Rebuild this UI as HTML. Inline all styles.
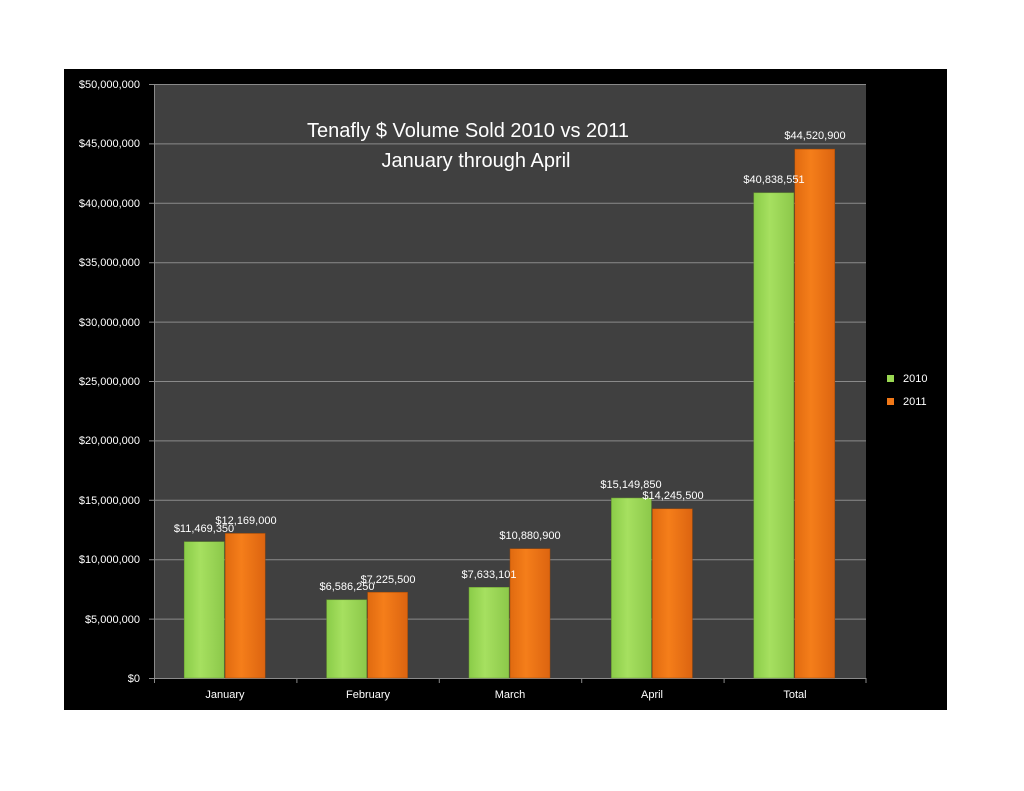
<!DOCTYPE html>
<html><head><meta charset="utf-8"><style>
body{margin:0;background:#fff;}
svg{display:block;font-family:"Liberation Sans",sans-serif;}
</style></head><body>
<svg width="1024" height="791" viewBox="0 0 1024 791">
<defs>
<linearGradient id="g" x1="0" x2="1" y1="0" y2="0">
<stop offset="0" stop-color="#8acc48"/><stop offset="0.4" stop-color="#a6e060"/><stop offset="1" stop-color="#8cc84a"/></linearGradient>
<linearGradient id="o" x1="0" x2="1" y1="0" y2="0">
<stop offset="0" stop-color="#e06a10"/><stop offset="0.4" stop-color="#f57e1a"/><stop offset="1" stop-color="#dc6410"/></linearGradient>
</defs>
<rect x="64" y="69" width="883" height="641" fill="#000"/>
<rect x="154" y="84" width="712" height="594" fill="#404040"/>
<g stroke="#8a8a8a" stroke-width="1">
<line x1="149" x2="866" y1="84.5" y2="84.5"/>
<line x1="149" x2="866" y1="143.9" y2="143.9"/>
<line x1="149" x2="866" y1="203.3" y2="203.3"/>
<line x1="149" x2="866" y1="262.7" y2="262.7"/>
<line x1="149" x2="866" y1="322.1" y2="322.1"/>
<line x1="149" x2="866" y1="381.5" y2="381.5"/>
<line x1="149" x2="866" y1="440.9" y2="440.9"/>
<line x1="149" x2="866" y1="500.3" y2="500.3"/>
<line x1="149" x2="866" y1="559.7" y2="559.7"/>
<line x1="149" x2="866" y1="619.1" y2="619.1"/>
<line x1="149" x2="866" y1="678.5" y2="678.5"/>
<line x1="154.5" x2="154.5" y1="84" y2="678"/>
<line x1="154.5" x2="154.5" y1="678" y2="683"/>
<line x1="296.9" x2="296.9" y1="678" y2="683"/>
<line x1="439.3" x2="439.3" y1="678" y2="683"/>
<line x1="581.7" x2="581.7" y1="678" y2="683"/>
<line x1="724.1" x2="724.1" y1="678" y2="683"/>
<line x1="866" x2="866" y1="678" y2="683"/>
</g>
<g fill="#fff" font-size="11" text-anchor="end">
<text x="140" y="88">$50,000,000</text>
<text x="140" y="147">$45,000,000</text>
<text x="140" y="207">$40,000,000</text>
<text x="140" y="266">$35,000,000</text>
<text x="140" y="326">$30,000,000</text>
<text x="140" y="385">$25,000,000</text>
<text x="140" y="444">$20,000,000</text>
<text x="140" y="504">$15,000,000</text>
<text x="140" y="563">$10,000,000</text>
<text x="140" y="623">$5,000,000</text>
<text x="140" y="682">$0</text>
</g>
<g fill="url(#g)" stroke="#6a9a30" stroke-width="0.5">
<rect x="184.2" y="541.7" width="40" height="136.3"/>
<rect x="326.6" y="599.8" width="40" height="78.2"/>
<rect x="469" y="587.3" width="40" height="90.7"/>
<rect x="611.4" y="498" width="40" height="180"/>
<rect x="753.8" y="192.8" width="40" height="485.2"/>
</g>
<g fill="url(#o)" stroke="#a04a08" stroke-width="0.5">
<rect x="225.2" y="533.4" width="40" height="144.6"/>
<rect x="367.6" y="592.2" width="40" height="85.8"/>
<rect x="510" y="548.7" width="40" height="129.3"/>
<rect x="652.4" y="508.8" width="40" height="169.2"/>
<rect x="794.8" y="149.1" width="40" height="528.9"/>
</g>
<g fill="#fff" font-size="11" text-anchor="middle">
<text x="204" y="532">$11,469,350</text>
<text x="246" y="524">$12,169,000</text>
<text x="347" y="590">$6,586,250</text>
<text x="388" y="583">$7,225,500</text>
<text x="489" y="578">$7,633,101</text>
<text x="530" y="539">$10,880,900</text>
<text x="631" y="488">$15,149,850</text>
<text x="673" y="499">$14,245,500</text>
<text x="774" y="183">$40,838,551</text>
<text x="815" y="139">$44,520,900</text>
<text x="225" y="698">January</text>
<text x="368" y="698">February</text>
<text x="510" y="698">March</text>
<text x="652" y="698">April</text>
<text x="795" y="698">Total</text>
</g>
<g fill="#fff" font-size="20" text-anchor="middle">
<text x="468" y="137">Tenafly $ Volume Sold  2010 vs 2011</text>
<text x="476" y="167">January through April</text>
</g>
<rect x="887" y="375" width="7" height="7" fill="#9ad852"/>
<rect x="887" y="398" width="7" height="7" fill="#f07818"/>
<g fill="#fff" font-size="11">
<text x="903" y="382">2010</text>
<text x="903" y="405">2011</text>
</g>
</svg>
</body></html>
